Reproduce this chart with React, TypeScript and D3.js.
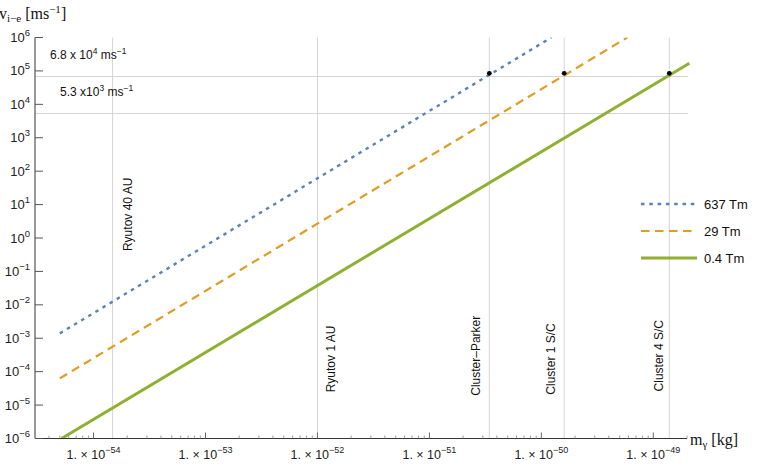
import React from 'react'
import * as d3 from 'd3'

// series: straight lines on log-log axes, end points
const seriesNames = ['637 Tm', '29 Tm', '0.4 Tm']
const seriesMass = [
  [5e-55, 1.23e-50],
  [5e-55, 5.86e-50],
  [5.18e-55, 2.1e-49],
]
const seriesSpeed = [
  [1.4e-3, 1e6],
  [6.3e-5, 1e6],
  [1e-6, 1.7e5],
]
const seriesColors = ['#5e81b5', '#e19c24', '#8fb032']
const seriesDash = ['3.5,4.8', '8.5,5.5', null]
const seriesWidth = [2.4, 2.2, 3]

// vertical reference lines (mass bounds) and their labels
const markerNames = ['Ryutov 40 AU', 'Ryutov 1 AU', 'Cluster–Parker', 'Cluster 1 S/C', 'Cluster 4 S/C']
const markerMass = [1.48e-54, 1e-52, 3.43e-51, 1.6e-50, 1.39e-49]
// label centres, in data units
const markerLabelMass = [2.05e-54, 1.33e-52, 2.63e-51, 1.23e-50, 1.13e-49]
const markerLabelSpeed = [5.1, 2.4e-4, 3e-4, 2.4e-4, 3e-4]

// horizontal reference lines
const refSpeed = [6.8e4, 5.3e3]
const refMantissa = ['6.8 x 10', '5.3 x10']
const refExp = ['4', '3']

// black points
const dotMass = [3.43e-51, 1.6e-50, 1.39e-49]
const dotSpeed = [8.5e4, 8.5e4, 8.5e4]

const xTickExp = [-54, -53, -52, -51, -50, -49]
const yTickExp = [6, 5, 4, 3, 2, 1, 0, -1, -2, -3, -4, -5, -6]

const W = 763
const H = 467
const left = 35
const right = 687
const top = 37.5
const bottom = 438.5

const sans = '"Liberation Sans", Arial, sans-serif'
const serif = '"Liberation Serif", "Times New Roman", serif'

const App = () => {
  const x = d3.scaleLog().domain([3e-55, 2e-49]).range([left, right])
  const y = d3.scaleLog().domain([1e-6, 1e6]).range([bottom, top])

  const line = d3
    .line<[number, number]>()
    .x((d) => x(d[0]))
    .y((d) => y(d[1]))

  // minor ticks 2..9 in every decade inside the domain
  const minor: number[] = []
  for (let e = -55; e <= -49; e++) {
    for (let k = 2; k <= 9; k++) {
      const v = k * Math.pow(10, e)
      if (v >= 3e-55 && v <= 2e-49) minor.push(v)
    }
  }

  return (
    <svg
      width={W}
      height={H}
      style={{ position: 'absolute', left: 0, top: 0, background: '#fff' }}
    >
      <defs>
        <clipPath id="plot">
          <rect x={left} y={top} width={right - left + 4} height={bottom - top} />
        </clipPath>
      </defs>

      {/* grid lines */}
      {markerMass.map((m, i) => (
        <line
          key={'vm' + i}
          x1={x(m)}
          x2={x(m)}
          y1={top}
          y2={bottom}
          stroke="#d4d4d4"
          strokeWidth={1}
        />
      ))}
      {refSpeed.map((v, i) => (
        <line
          key={'hr' + i}
          x1={left}
          x2={right + 1}
          y1={y(v)}
          y2={y(v)}
          stroke="#d4d4d4"
          strokeWidth={1}
        />
      ))}

      {/* reference line labels */}
      {refSpeed.map((v, i) => (
        <text
          key={'rt' + i}
          x={i === 0 ? 50 : 60}
          y={y(v) - 18}
          fontFamily={sans}
          fontSize={12}
          fill="#111"
        >
          {refMantissa[i]}
          <tspan dy={-5} fontSize={8.5}>{refExp[i]}</tspan>
          <tspan dy={5}> ms</tspan>
          <tspan dy={-5} fontSize={8.5}>−1</tspan>
        </text>
      ))}

      {markerNames.map((name, i) => {
        const cx = x(markerLabelMass[i])
        const cy = y(markerLabelSpeed[i])
        return (
          <text
            key={'ml' + i}
            transform={`translate(${cx},${cy}) rotate(-90)`}
            textAnchor="middle"
            dominantBaseline="central"
            fontFamily={sans}
            fontSize={12}
            fill="#111"
          >
            {name}
          </text>
        )
      })}

      {/* series */}
      <g clipPath="url(#plot)">
        {seriesNames.map((name, i) => (
          <path
            key={name}
            d={line(seriesMass[i].map((m, j) => [m, seriesSpeed[i][j]] as [number, number])) || ''}
            fill="none"
            stroke={seriesColors[i]}
            strokeWidth={seriesWidth[i]}
            strokeDasharray={seriesDash[i] || undefined}
          />
        ))}
      </g>

      {dotMass.map((m, i) => (
        <circle key={'dot' + i} cx={x(m)} cy={y(dotSpeed[i])} r={2.4} fill="#000" />
      ))}

      {/* axes */}
      <line x1={left} x2={left} y1={top} y2={bottom} stroke="#333" strokeWidth={1} />
      <line x1={left} x2={right} y1={bottom} y2={bottom} stroke="#333" strokeWidth={1} />

      {yTickExp.map((e) => {
        const yy = y(Math.pow(10, e))
        return (
          <g key={'yt' + e}>
            <line x1={left} x2={left + 8} y1={yy} y2={yy} stroke="#555" strokeWidth={1} />
            <text
              x={30}
              y={yy + 4.5}
              textAnchor="end"
              fontFamily={sans}
              fontSize={13}
              fill="#222"
            >
              10
              <tspan dy={-6} fontSize={9.5}>{e < 0 ? '−' + -e : String(e)}</tspan>
            </text>
          </g>
        )
      })}

      {minor.map((v, i) => (
        <line
          key={'mn' + i}
          x1={x(v)}
          x2={x(v)}
          y1={bottom}
          y2={bottom - 3}
          stroke="#888"
          strokeWidth={0.8}
        />
      ))}

      {xTickExp.map((e) => {
        const xx = x(Math.pow(10, e))
        return (
          <g key={'xt' + e}>
            <line x1={xx} x2={xx} y1={bottom} y2={bottom - 6} stroke="#666" strokeWidth={1} />
            <text
              x={xx}
              y={bottom + 20}
              textAnchor="middle"
              fontFamily={sans}
              fontSize={12.5}
              fill="#222"
            >
              1. × 10
              <tspan dy={-6} fontSize={9}>{'−' + -e}</tspan>
            </text>
          </g>
        )
      })}

      {/* axis titles */}
      <text x={-1} y={19} fontFamily={serif} fontSize={16} fill="#111">
        v
        <tspan dy={3} fontSize={11}>i−e</tspan>
        <tspan dy={-3}> [ms</tspan>
        <tspan dy={-6} fontSize={11}>−1</tspan>
        <tspan dy={6}>]</tspan>
      </text>
      <text x={690} y={445} fontFamily={serif} fontSize={16} fill="#111">
        m
        <tspan dy={3} fontSize={11}>γ</tspan>
        <tspan dy={-3}> [kg]</tspan>
      </text>

      {/* legend */}
      {seriesNames.map((name, i) => {
        const ly = 204 + i * 27
        return (
          <g key={'lg' + i}>
            <line
              x1={641}
              x2={697}
              y1={ly}
              y2={ly}
              stroke={seriesColors[i]}
              strokeWidth={seriesWidth[i]}
              strokeDasharray={seriesDash[i] || undefined}
            />
            <text x={704} y={ly + 5} fontFamily={sans} fontSize={13} fill="#111">
              {name}
            </text>
          </g>
        )
      })}
    </svg>
  )
}

export default App
